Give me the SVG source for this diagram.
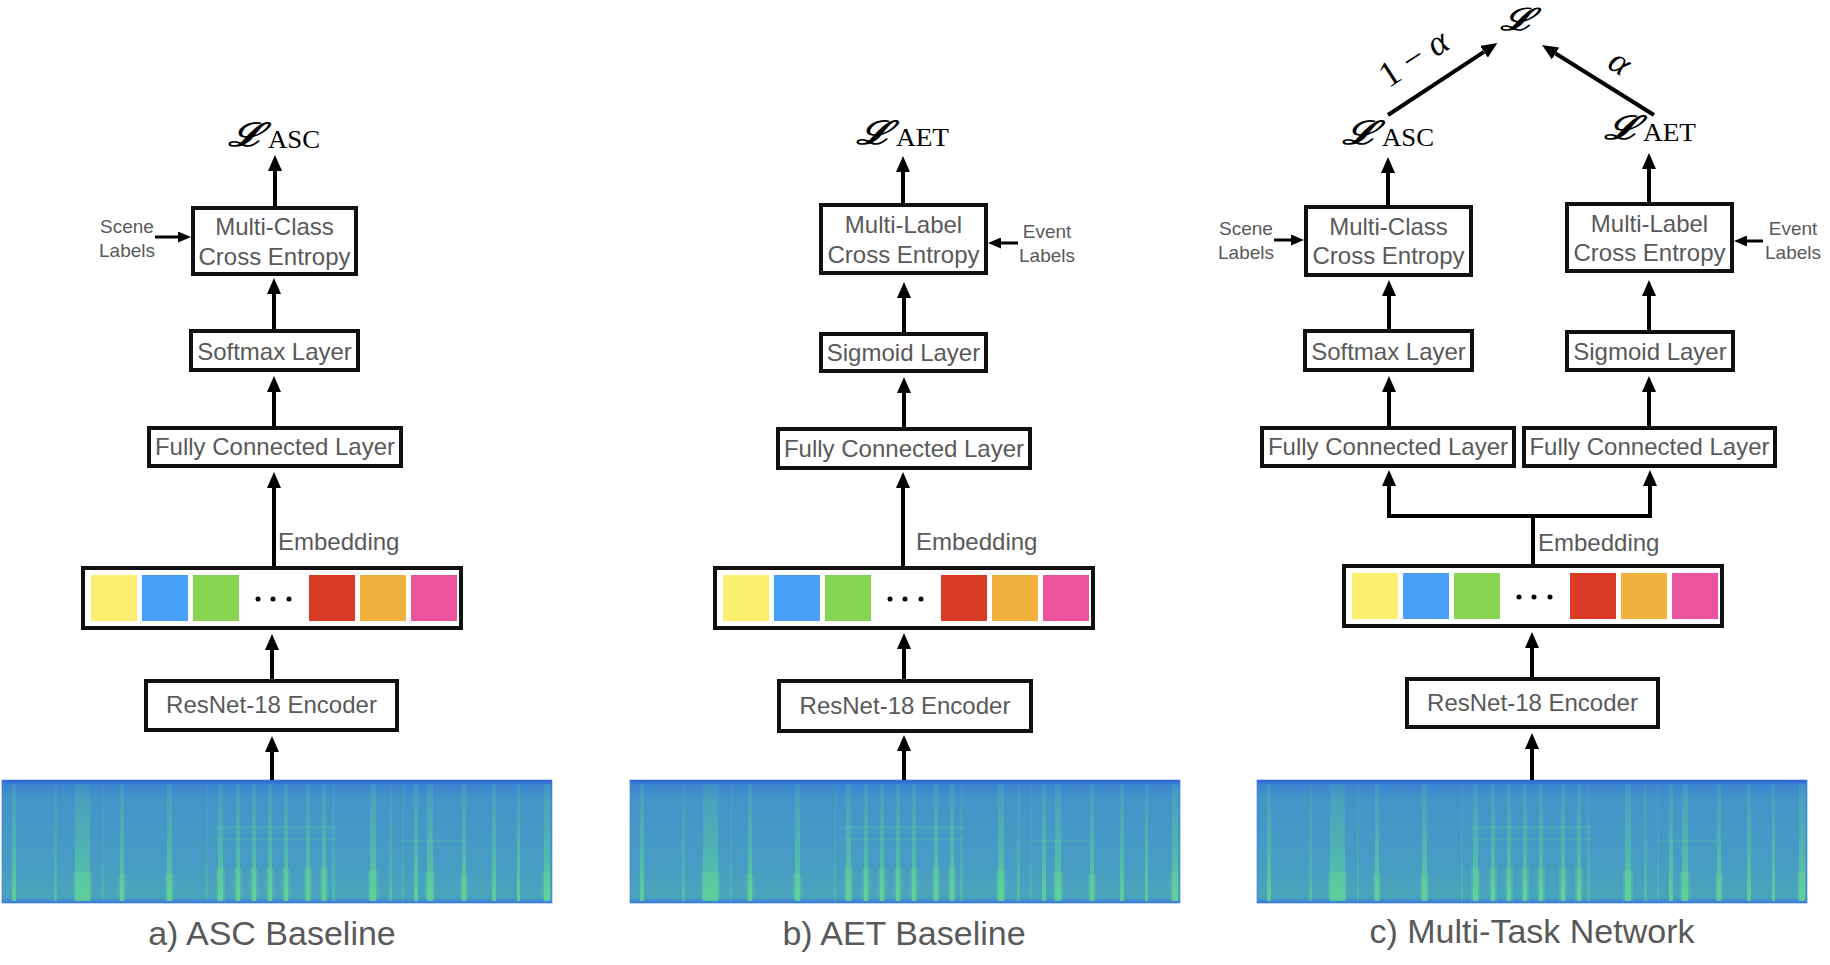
<svg xmlns="http://www.w3.org/2000/svg" xmlns:xlink="http://www.w3.org/1999/xlink" width="1830" height="965" viewBox="0 0 1830 965">
<style>
.box{fill:#fff;stroke:#111;stroke-width:4}
.t{font-family:"Liberation Sans",Arial,sans-serif;font-size:24px;fill:#595959;text-anchor:middle}
.s{font-size:19px}
.cap{font-size:34px}
.st{text-anchor:start}
.conn{stroke:#000;stroke-width:4;fill:none}
.thin{stroke:#000;stroke-width:3;fill:none}
.L{font-family:"DejaVu Serif",serif;font-style:italic;font-weight:bold;font-size:38px;fill:#000}
.sub{font-family:"Liberation Serif","Times New Roman",serif;font-size:26px;fill:#000}
.m{font-family:"Liberation Serif","Times New Roman",serif;font-size:36px;fill:#000}
</style>
<defs>
<marker id="ah" markerUnits="userSpaceOnUse" viewBox="0 0 16 14" refX="0" refY="7" markerWidth="16" markerHeight="14" orient="auto"><path d="M0,0L16,7L0,14z" fill="#000"/></marker>
<marker id="ahs" markerUnits="userSpaceOnUse" viewBox="0 0 13 11" refX="0" refY="5.5" markerWidth="13" markerHeight="11" orient="auto"><path d="M0,0L13,5.5L0,11z" fill="#000"/></marker>
<linearGradient id="sg" x1="0" y1="0" x2="0" y2="1">
<stop offset="0" stop-color="#2f5fd8"/>
<stop offset="0.04" stop-color="#3b84d0"/>
<stop offset="0.15" stop-color="#4494c9"/>
<stop offset="0.7" stop-color="#479cc3"/>
<stop offset="0.95" stop-color="#4aa5ba"/>
<stop offset="1" stop-color="#3a7ed8"/>
</linearGradient>
<linearGradient id="stripe" x1="0" y1="0" x2="0" y2="1">
<stop offset="0" stop-color="#5fd894" stop-opacity="0.15"/>
<stop offset="0.5" stop-color="#5fd894" stop-opacity="0.4"/>
<stop offset="1" stop-color="#66e08f" stop-opacity="0.7"/>
</linearGradient>
<g id="spec">
<rect x="0" y="0" width="550" height="123" fill="url(#sg)"/>
<g fill="url(#stripe)">
<rect x="10" y="4" width="4" height="117"/>
<rect x="52" y="4" width="3" height="117" opacity="0.6"/>
<rect x="73" y="4" width="15" height="117" opacity="0.9"/>
<rect x="100" y="4" width="2" height="117" opacity="0.4"/>
<rect x="118" y="4" width="4" height="117"/>
<rect x="165" y="4" width="5" height="117"/>
<rect x="204" y="4" width="2" height="117" opacity="0.4"/>
<rect x="216" y="4" width="5" height="117"/>
<rect x="234" y="4" width="4" height="117"/>
<rect x="250" y="4" width="4" height="117"/>
<rect x="266" y="4" width="4" height="117"/>
<rect x="282" y="4" width="4" height="117"/>
<rect x="304" y="4" width="4" height="117"/>
<rect x="320" y="4" width="4" height="117"/>
<rect x="330" y="4" width="3" height="117" opacity="0.5"/>
<rect x="368" y="4" width="6" height="117"/>
<rect x="387" y="4" width="3" height="117" opacity="0.6"/>
<rect x="400" y="4" width="2" height="117" opacity="0.4"/>
<rect x="412" y="4" width="4" height="117"/>
<rect x="425" y="4" width="6" height="117"/>
<rect x="460" y="4" width="4" height="117"/>
<rect x="490" y="4" width="4" height="117"/>
<rect x="515" y="4" width="3" height="117"/>
<rect x="542" y="4" width="6" height="117"/>
</g>
<g fill="#6ae090" opacity="0.25">
<rect x="214" y="88" width="9" height="32"/>
<rect x="232" y="88" width="8" height="32"/>
<rect x="248" y="88" width="8" height="32"/>
<rect x="264" y="88" width="8" height="32"/>
<rect x="280" y="88" width="8" height="32"/>
<rect x="302" y="88" width="8" height="32"/>
<rect x="318" y="88" width="8" height="32"/>
<rect x="366" y="90" width="10" height="30"/>
<rect x="71" y="92" width="19" height="28"/>
<rect x="116" y="94" width="8" height="26"/>
<rect x="163" y="94" width="9" height="26"/>
<rect x="423" y="92" width="10" height="28"/>
<rect x="458" y="94" width="8" height="26"/>
<rect x="540" y="92" width="8" height="28"/>
</g>
<g fill="#5fd894" opacity="0.2">
<rect x="214" y="46" width="120" height="3"/>
<rect x="214" y="58" width="120" height="2"/>
<rect x="400" y="60" width="60" height="2"/>
</g>
<rect x="0" y="0" width="550" height="123" fill="none" stroke="#3a78d8" stroke-width="1" opacity="0.6"/>
</g>
<g id="emb">
<rect x="2" y="2" width="378" height="60" class="box"/>
<rect x="10" y="9" width="46" height="46" fill="#fcee6f"/>
<rect x="61" y="9" width="46" height="46" fill="#48a0f8"/>
<rect x="112" y="9" width="46" height="46" fill="#86d654"/>
<circle cx="177" cy="33" r="2.5" fill="#000"/>
<circle cx="192" cy="33" r="2.5" fill="#000"/>
<circle cx="208" cy="33" r="2.5" fill="#000"/>
<rect x="228" y="9" width="46" height="46" fill="#da3b26"/>
<rect x="279" y="9" width="46" height="46" fill="#f1b13d"/>
<rect x="330" y="9" width="46" height="46" fill="#eb549c"/>
</g>
</defs>

<!-- spectrograms -->
<g id="spectrogram-a"><use xlink:href="#spec" x="2" y="780"/></g>
<g id="spectrogram-b"><use xlink:href="#spec" x="630" y="780"/></g>
<g id="spectrogram-c"><use xlink:href="#spec" x="1257" y="780"/></g>

<!-- connectors -->
<g id="connectors">
<line class="conn" x1="275" y1="206" x2="275" y2="171" marker-end="url(#ah)"/>
<line class="conn" x1="274" y1="329" x2="274" y2="294" marker-end="url(#ah)"/>
<line class="conn" x1="274" y1="426" x2="274" y2="392" marker-end="url(#ah)"/>
<line class="conn" x1="274" y1="566" x2="274" y2="488" marker-end="url(#ah)"/>
<line class="conn" x1="272" y1="679" x2="272" y2="650" marker-end="url(#ah)"/>
<line class="conn" x1="272" y1="780" x2="272" y2="752" marker-end="url(#ah)"/>
<line class="thin" x1="155" y1="237" x2="178" y2="237" marker-end="url(#ahs)"/>

<line class="conn" x1="903" y1="203" x2="903" y2="172" marker-end="url(#ah)"/>
<line class="conn" x1="904" y1="332" x2="904" y2="298" marker-end="url(#ah)"/>
<line class="conn" x1="904" y1="427" x2="904" y2="393" marker-end="url(#ah)"/>
<line class="conn" x1="903" y1="566" x2="903" y2="488" marker-end="url(#ah)"/>
<line class="conn" x1="904" y1="679" x2="904" y2="649" marker-end="url(#ah)"/>
<line class="conn" x1="904" y1="780" x2="904" y2="751" marker-end="url(#ah)"/>
<line class="thin" x1="1018" y1="243" x2="1001" y2="243" marker-end="url(#ahs)"/>

<line class="conn" x1="1388" y1="115" x2="1484" y2="51.8" marker-end="url(#ah)"/>
<line class="conn" x1="1654" y1="115" x2="1555.6" y2="53.5" marker-end="url(#ah)"/>
<line class="conn" x1="1388" y1="205" x2="1388" y2="173" marker-end="url(#ah)"/>
<line class="conn" x1="1649" y1="202" x2="1649" y2="169" marker-end="url(#ah)"/>
<line class="conn" x1="1389" y1="329" x2="1389" y2="296" marker-end="url(#ah)"/>
<line class="conn" x1="1649" y1="330" x2="1649" y2="296" marker-end="url(#ah)"/>
<line class="conn" x1="1389" y1="426" x2="1389" y2="392" marker-end="url(#ah)"/>
<line class="conn" x1="1649" y1="426" x2="1649" y2="392" marker-end="url(#ah)"/>
<path class="conn" d="M1533,564V516M1387,516H1652"/>
<line class="conn" x1="1389" y1="518" x2="1389" y2="486" marker-end="url(#ah)"/>
<line class="conn" x1="1650" y1="518" x2="1650" y2="486" marker-end="url(#ah)"/>
<line class="conn" x1="1532" y1="677" x2="1532" y2="648" marker-end="url(#ah)"/>
<line class="conn" x1="1532" y1="780" x2="1532" y2="749" marker-end="url(#ah)"/>
<line class="thin" x1="1274" y1="240" x2="1291" y2="240" marker-end="url(#ahs)"/>
<line class="thin" x1="1763" y1="241" x2="1747" y2="241" marker-end="url(#ahs)"/>
</g>

<!-- Panel a -->
<g id="a-loss"><text class="L" transform="translate(228,146) scale(1.15,0.85)">ℒ</text><text class="sub" x="268" y="148" textLength="52" lengthAdjust="spacingAndGlyphs">ASC</text></g>
<g id="a-ce"><rect class="box" x="193" y="208" width="163" height="66"/><text class="t" x="274.5" y="235">Multi-Class</text><text class="t" x="274.5" y="265">Cross Entropy</text></g>
<g id="a-scene"><text class="t s" x="127" y="233">Scene</text><text class="t s" x="127" y="257">Labels</text></g>
<g id="a-softmax"><rect class="box" x="191" y="331" width="167" height="39"/><text class="t" x="274.5" y="360">Softmax Layer</text></g>
<g id="a-fc"><rect class="box" x="149" y="428" width="252" height="38"/><text class="t" x="275" y="455">Fully Connected Layer</text></g>
<g id="a-embedding-label"><text class="t st" x="278" y="550">Embedding</text></g>
<g id="a-embedding"><use xlink:href="#emb" x="81" y="566"/></g>
<g id="a-resnet"><rect class="box" x="146" y="681" width="251" height="49"/><text class="t" x="271.5" y="713">ResNet-18 Encoder</text></g>
<g id="a-caption"><text class="t cap" x="272" y="945">a) ASC Baseline</text></g>

<!-- Panel b -->
<g id="b-loss"><text class="L" transform="translate(856,144) scale(1.15,0.85)">ℒ</text><text class="sub" x="896" y="146" textLength="53" lengthAdjust="spacingAndGlyphs">AET</text></g>
<g id="b-ce"><rect class="box" x="821" y="205" width="165" height="68"/><text class="t" x="903.5" y="233">Multi-Label</text><text class="t" x="903.5" y="263">Cross Entropy</text></g>
<g id="b-event"><text class="t s" x="1047" y="238">Event</text><text class="t s" x="1047" y="262">Labels</text></g>
<g id="b-sigmoid"><rect class="box" x="821" y="334" width="165" height="37"/><text class="t" x="903.5" y="361">Sigmoid Layer</text></g>
<g id="b-fc"><rect class="box" x="778" y="429" width="252" height="39"/><text class="t" x="904" y="457">Fully Connected Layer</text></g>
<g id="b-embedding-label"><text class="t st" x="916" y="550">Embedding</text></g>
<g id="b-embedding"><use xlink:href="#emb" x="713" y="566"/></g>
<g id="b-resnet"><rect class="box" x="779" y="681" width="252" height="50"/><text class="t" x="905" y="714">ResNet-18 Encoder</text></g>
<g id="b-caption"><text class="t cap" x="904" y="945">b) AET Baseline</text></g>

<!-- Panel c -->
<g id="c-total-loss"><text class="L" transform="translate(1500,30) scale(1.1,0.8)">ℒ</text></g>
<g id="c-weight-left"><text class="m" text-anchor="middle" transform="translate(1420,68) rotate(-33)">1 − <tspan font-style="italic">α</tspan></text></g>
<g id="c-weight-right"><text class="m" text-anchor="middle" font-style="italic" transform="translate(1614,72) rotate(33)">α</text></g>
<g id="c-loss-asc"><text class="L" transform="translate(1342,144) scale(1.15,0.85)">ℒ</text><text class="sub" x="1382" y="146" textLength="52" lengthAdjust="spacingAndGlyphs">ASC</text></g>
<g id="c-loss-aet"><text class="L" transform="translate(1604,139) scale(1.15,0.85)">ℒ</text><text class="sub" x="1643" y="141" textLength="53" lengthAdjust="spacingAndGlyphs">AET</text></g>
<g id="c-ce-left"><rect class="box" x="1306" y="207" width="165" height="68"/><text class="t" x="1388.5" y="235">Multi-Class</text><text class="t" x="1388.5" y="264">Cross Entropy</text></g>
<g id="c-scene"><text class="t s" x="1246" y="235">Scene</text><text class="t s" x="1246" y="259">Labels</text></g>
<g id="c-ce-right"><rect class="box" x="1567" y="204" width="165" height="67"/><text class="t" x="1649.5" y="232">Multi-Label</text><text class="t" x="1649.5" y="261">Cross Entropy</text></g>
<g id="c-event"><text class="t s" x="1793" y="235">Event</text><text class="t s" x="1793" y="259">Labels</text></g>
<g id="c-softmax"><rect class="box" x="1305" y="331" width="167" height="39"/><text class="t" x="1388.5" y="360">Softmax Layer</text></g>
<g id="c-sigmoid"><rect class="box" x="1567" y="332" width="166" height="38"/><text class="t" x="1650" y="360">Sigmoid Layer</text></g>
<g id="c-fc-left"><rect class="box" x="1262" y="428" width="252" height="38"/><text class="t" x="1388" y="455">Fully Connected Layer</text></g>
<g id="c-fc-right"><rect class="box" x="1524" y="428" width="251" height="38"/><text class="t" x="1649.5" y="455">Fully Connected Layer</text></g>
<g id="c-embedding-label"><text class="t st" x="1538" y="551">Embedding</text></g>
<g id="c-embedding"><use xlink:href="#emb" x="1342" y="564"/></g>
<g id="c-resnet"><rect class="box" x="1407" y="679" width="251" height="48"/><text class="t" x="1532.5" y="711">ResNet-18 Encoder</text></g>
<g id="c-caption"><text class="t cap" x="1532" y="943">c) Multi-Task Network</text></g>
</svg>
